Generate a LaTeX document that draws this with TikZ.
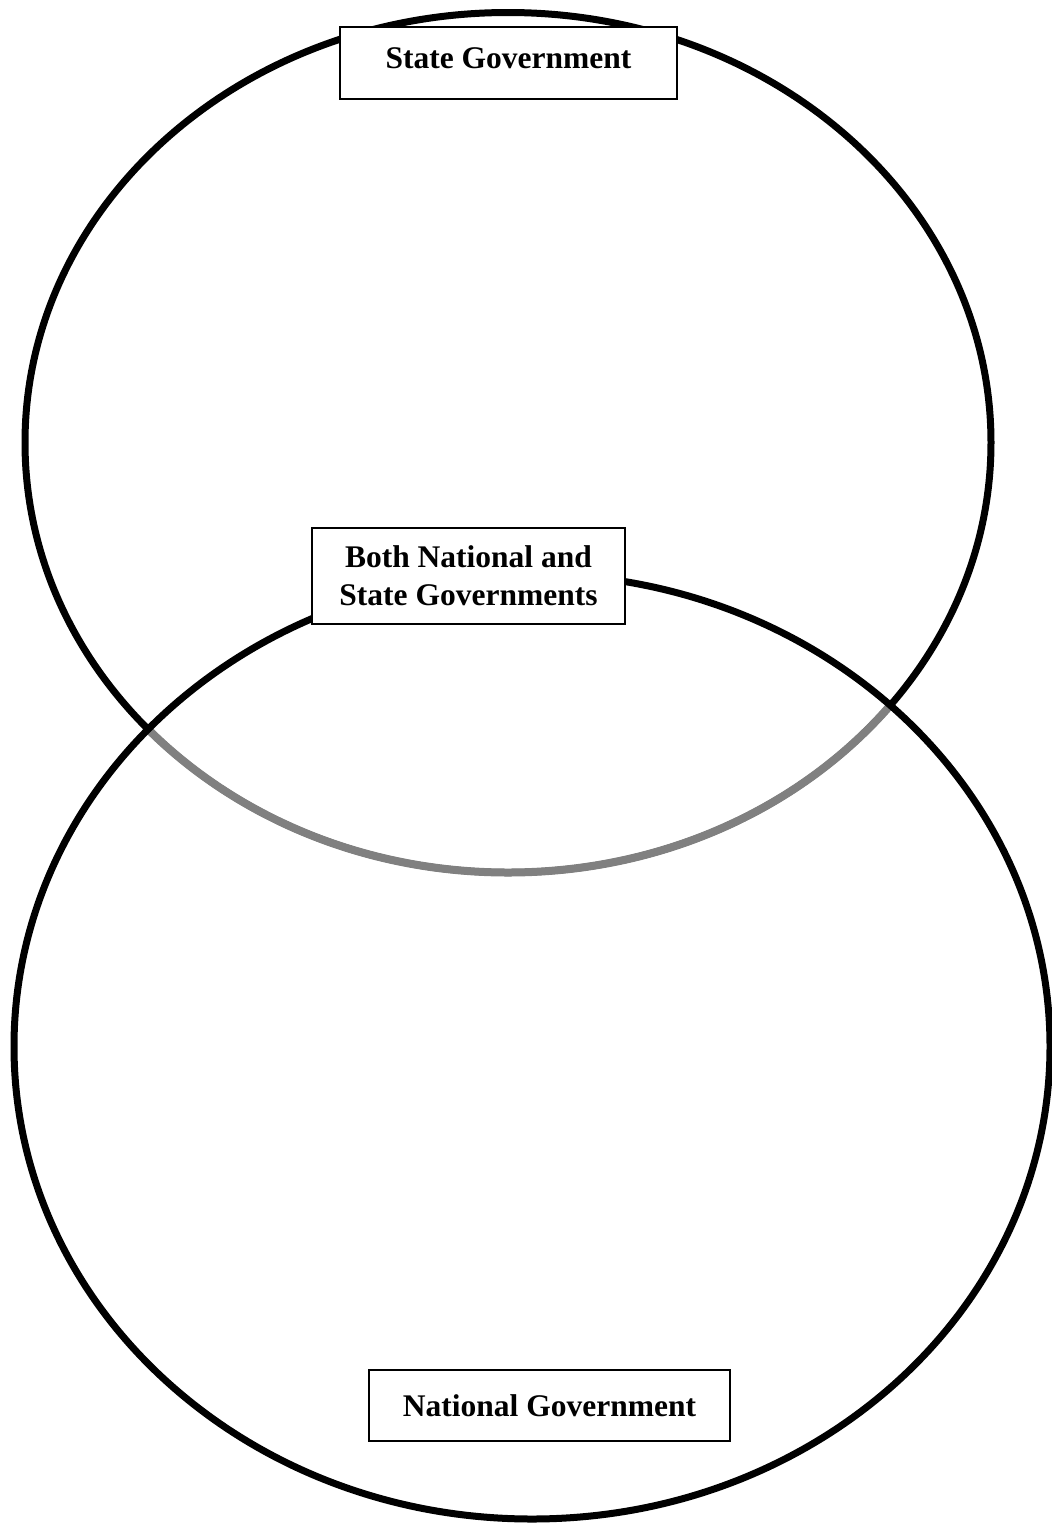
\documentclass[tikz,border=0pt]{standalone}
\usepackage{fontspec}
\setmainfont{Liberation Serif}
\begin{document}
\begin{tikzpicture}[x=1pt,y=-1pt,
  ring/.style={line width=7pt,draw=black},
  grayring/.style={line width=8pt,draw={rgb,1:red,0.5;green,0.5;blue,0.5}},
  labelbox/.style={draw=black,fill=white,line width=1.5pt,inner sep=0pt,
    font=\fontsize{31.5}{38}\selectfont\bfseries,align=center}]
\useasboundingbox (0,0) rectangle (1052,1524);
% top (State) ellipse
\draw[ring] (508,442.5) ellipse [x radius=483, y radius=430];
\begin{scope}
  \clip (532,1046.5) ellipse [x radius=518, y radius=472.5];
  \draw[grayring] (508,442.5) ellipse [x radius=483, y radius=430];
\end{scope}
% bottom (National) ellipse
\draw[ring] (532,1046.5) ellipse [x radius=518, y radius=472.5];
% labels
\node[labelbox,anchor=base,minimum width=337pt,text height=41pt,text depth=31pt] (state) at (508.5,68) {State Government};
\node[labelbox,minimum width=313pt,minimum height=96pt] (both) at (468.5,576) {Both National and\\State Governments};
\node[labelbox,minimum width=361pt,minimum height=71pt] (national) at (549.5,1405.5) {National Government};
\end{tikzpicture}
\end{document}
